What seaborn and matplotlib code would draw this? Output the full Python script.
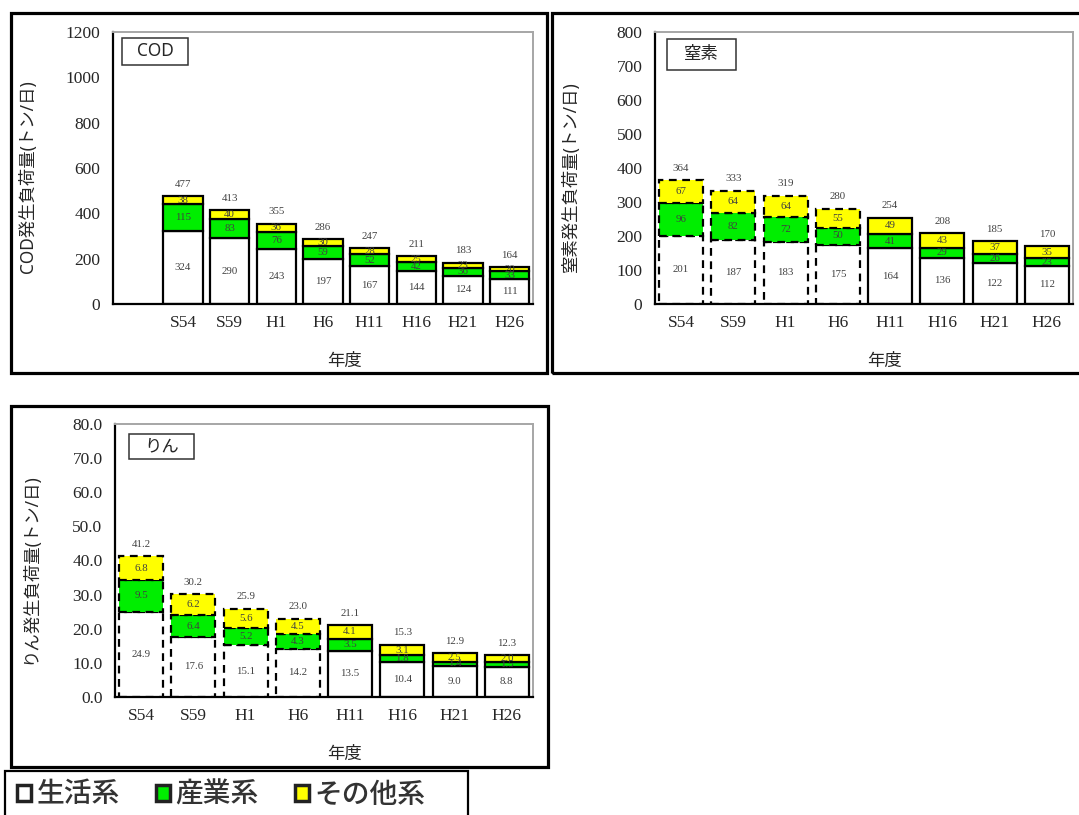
import numpy as np
import pandas as pd
import matplotlib
matplotlib.use('Agg')
import matplotlib.pyplot as plt
import seaborn as sns
from matplotlib.patches import Rectangle, Patch

years = ['S54', 'S59', 'H1', 'H6', 'H11', 'H16', 'H21', 'H26']

cod_life = [324, 290, 243, 197, 167, 144, 124, 111]
cod_ind = [115, 83, 76, 59, 52, 42, 36, 33]
cod_other = [38, 40, 36, 30, 28, 25, 23, 20]
cod_total = [477, 413, 355, 286, 247, 211, 183, 164]

n_life = [201, 187, 183, 175, 164, 136, 122, 112]
n_ind = [96, 82, 72, 50, 41, 29, 26, 23]
n_other = [67, 64, 64, 55, 49, 43, 37, 35]
n_total = [364, 333, 319, 280, 254, 208, 185, 170]

p_life = [24.9, 17.6, 15.1, 14.2, 13.5, 10.4, 9.0, 8.8]
p_ind = [9.5, 6.4, 5.2, 4.3, 3.5, 1.8, 1.4, 1.5]
p_other = [6.8, 6.2, 5.6, 4.5, 4.1, 3.1, 2.5, 2.0]
p_total = [41.2, 30.2, 25.9, 23.0, 21.1, 15.3, 12.9, 12.3]

series_names = ['生活系', '産業系', 'その他系']
series_colors = ['#ffffff', '#00ee00', '#ffff00']

sns.set_style('white')
plt.rcParams['font.family'] = ['Liberation Serif', 'Noto Sans CJK JP']
JP = ['Noto Sans', 'Noto Sans CJK JP', 'DejaVu Sans']
JP_SERIF = ['Noto Sans CJK JP', 'DejaVu Sans']

W, H = 1079, 815
fig = plt.figure(figsize=(W / 100, H / 100), dpi=100)


def px_rect(x0, y0, x1, y1):
    # pixel box (top-left origin) -> figure fraction rect
    return [x0 / W, 1 - y1 / H, (x1 - x0) / W, (y1 - y0) / H]


def draw_panel(ax, order, life, ind, other, total, ymax, ystep, fmt, ylabel, title, title_box, dashed=0):
    df = pd.DataFrame({'year': years, 'life': life, 'ind': ind, 'other': other})
    bottoms = [np.zeros(len(years)), df['life'].to_numpy(), (df['life'] + df['ind']).to_numpy()]
    for col, color, bot in zip(['life', 'ind', 'other'], series_colors, bottoms):
        sns.barplot(data=df, x='year', y=col, order=order, color=color, saturation=1,
                    edgecolor='black', linewidth=1.6, width=0.84, bottom=bot, ax=ax)
    for cont in ax.containers:
        for i, p in enumerate(cont.patches):
            if i < dashed:
                p.set_linestyle((0, (3.5, 2.5)))
    # segment labels
    for cont, vals in zip(ax.containers, [life, ind, other]):
        for p, v in zip(cont.patches, vals):
            ax.text(p.get_x() + p.get_width() / 2, p.get_y() + p.get_height() / 2,
                    fmt.format(v), ha='center', va='center', fontsize=7.8, color='#404040')
    top = ax.containers[-1]
    for p, v in zip(top.patches, total):
        ax.annotate(fmt.format(v), (p.get_x() + p.get_width() / 2, p.get_y() + p.get_height()),
                    xytext=(0, 8.5), textcoords='offset points', ha='center', va='center',
                    fontsize=7.8, color='#404040')
    ax.set_ylim(0, ymax)
    ticks = np.arange(0, ymax + ystep / 2, ystep)
    ax.set_yticks(ticks)
    ax.set_yticklabels([fmt.format(t) if '.' in fmt else f'{t:.0f}' for t in ticks], fontsize=12.5)
    ax.tick_params(axis='y', direction='in', length=4, width=1, color='black', pad=9)
    ax.tick_params(axis='x', length=0, pad=8, labelsize=12.5)
    for s in ['left', 'bottom']:
        ax.spines[s].set_color('black')
        ax.spines[s].set_linewidth(1.6)
    for s in ['top', 'right']:
        ax.spines[s].set_color('#a6a6a6')
        ax.spines[s].set_linewidth(1.4)
    ax.set_ylabel(ylabel, family=JP, fontsize=12.5)
    ax.yaxis.set_label_coords(-0.18, 0.47)
    ax.set_xlabel('年度', family=JP_SERIF, fontsize=12.5)
    ax.xaxis.set_label_coords(0.55, -0.175)
    fig.add_artist(Rectangle(title_box[:2], title_box[2], title_box[3], transform=fig.transFigure,
                             facecolor='white', edgecolor='#333333', linewidth=1.1))
    fig.text(title_box[0] + title_box[2] / 2, title_box[1] + title_box[3] / 2, title,
             family=JP, fontsize=12.5, ha='center', va='center')


# outer frames
for box in [(11, 13, 547, 373), (552, 13, 1090, 373), (11, 406, 548, 767)]:
    r = px_rect(*box)
    fig.add_artist(Rectangle(r[:2], r[2], r[3], transform=fig.transFigure,
                             facecolor='none', edgecolor='black', linewidth=2.3))

ax1 = fig.add_axes(px_rect(113, 32, 533, 304))
draw_panel(ax1, [''] + years, cod_life, cod_ind, cod_other, cod_total, 1200, 200, '{:.0f}',
           'COD発生負荷量(トン/日)', 'COD', px_rect(122, 38, 188, 65))

ax2 = fig.add_axes(px_rect(655, 32, 1073, 304))
draw_panel(ax2, years, n_life, n_ind, n_other, n_total, 800, 100, '{:.0f}',
           '窒素発生負荷量(トン/日)', '窒素', px_rect(667, 39, 736, 70), dashed=4)

ax3 = fig.add_axes(px_rect(115, 424, 533, 697))
draw_panel(ax3, years, p_life, p_ind, p_other, p_total, 80, 10, '{:.1f}',
           'りん発生負荷量(トン/日)', 'りん', px_rect(129, 434, 194, 459), dashed=4)

# legend
r = px_rect(5, 771, 468, 820)
fig.add_artist(Rectangle(r[:2], r[2], r[3], transform=fig.transFigure,
                         facecolor='white', edgecolor='black', linewidth=1.6))
handles = [Patch(facecolor=c, edgecolor='#222222', linewidth=2.5) for c in series_colors]
fig.legend(handles, series_names, ncol=3, loc='center left', bbox_to_anchor=(-8 / W, 1 - 794 / H),
           frameon=False, prop={'family': JP_SERIF, 'size': 20, 'weight': 'medium'},
           handlelength=0.5, handleheight=0.5, handletextpad=0.2, columnspacing=1.3,
           labelcolor='#333333')

fig.savefig('out.png', dpi=100)
